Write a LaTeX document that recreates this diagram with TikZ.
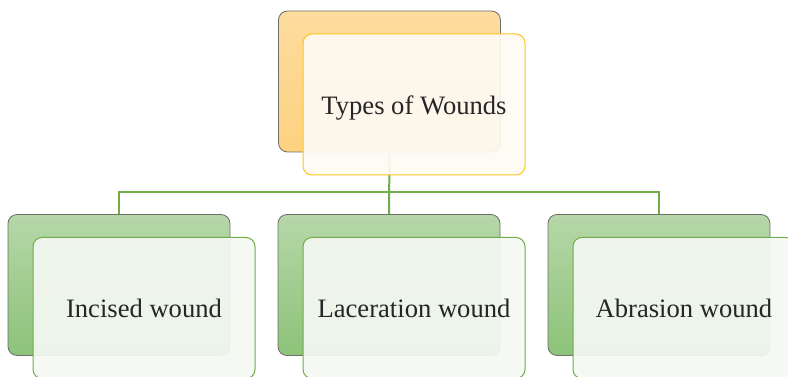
\documentclass[tikz,border=0pt]{standalone}
\usepackage{fontspec}
\setmainfont{Liberation Serif}
\usetikzlibrary{positioning}
\definecolor{woundorange}{RGB}{253, 210, 128}
\definecolor{woundorangelt}{RGB}{253, 220, 158}
\definecolor{woundgreen}{RGB}{141, 195, 122}
\definecolor{woundgreenlt}{RGB}{182, 215, 168}
\definecolor{woundyellow}{RGB}{255, 196, 30}
\definecolor{woundline}{RGB}{112, 173, 71}
\definecolor{woundgray}{RGB}{110, 110, 105}

\begin{document}
\begin{tikzpicture}[x=1pt, y=1pt,
        backbox/.style={draw=woundgray, line width=0.8pt, rounded corners=9pt,
              minimum width=222pt, minimum height=141pt, inner sep=0pt},
        frontbox/.style={line width=1pt, rounded corners=9pt, fill opacity=0.93,
              text opacity=1, minimum width=222pt, minimum height=141pt,
              inner sep=0pt, font=\fontsize{26.6}{30}\selectfont, text=black!85},
        link/.style={draw=woundline, line width=2pt}]
    \useasboundingbox (0,0) rectangle (788,377);
    \clip (0,0) rectangle (788,377);
    % back boxes
    \node[backbox, top color=woundorangelt, bottom color=woundorange] (tback) at (389.5,295.5) {};
    \node[backbox, top color=woundgreenlt, bottom color=woundgreen] (lback) at (119,92) {};
    \node[backbox, top color=woundgreenlt, bottom color=woundgreen] (mback) at (389,92) {};
    \node[backbox, top color=woundgreenlt, bottom color=woundgreen] (rback) at (659,92) {};
    % connectors
    \coordinate (bus) at (389.5,185);
    \draw[link] (tback.south) -- (mback.north);
    \draw[link] (lback.north) |- (bus) -| (rback.north);
    % front boxes
    \node[frontbox, draw=woundyellow, fill={rgb,255:red,254;green,250;blue,243}] (tfront) at (414,272.5) {\raisebox{-4pt}[\height][\depth]{Types of Wounds}};
    \node[frontbox, draw=woundline, fill={rgb,255:red,244;green,248;blue,242}] (lfront) at (144,69) {Incised wound};
    \node[frontbox, draw=woundline, fill={rgb,255:red,244;green,248;blue,242}] (mfront) at (414,69) {Laceration wound};
    \node[frontbox, draw=woundline, fill={rgb,255:red,244;green,248;blue,242}] (rfront) at (684,69) {Abrasion wound};
\end{tikzpicture}
\end{document}
